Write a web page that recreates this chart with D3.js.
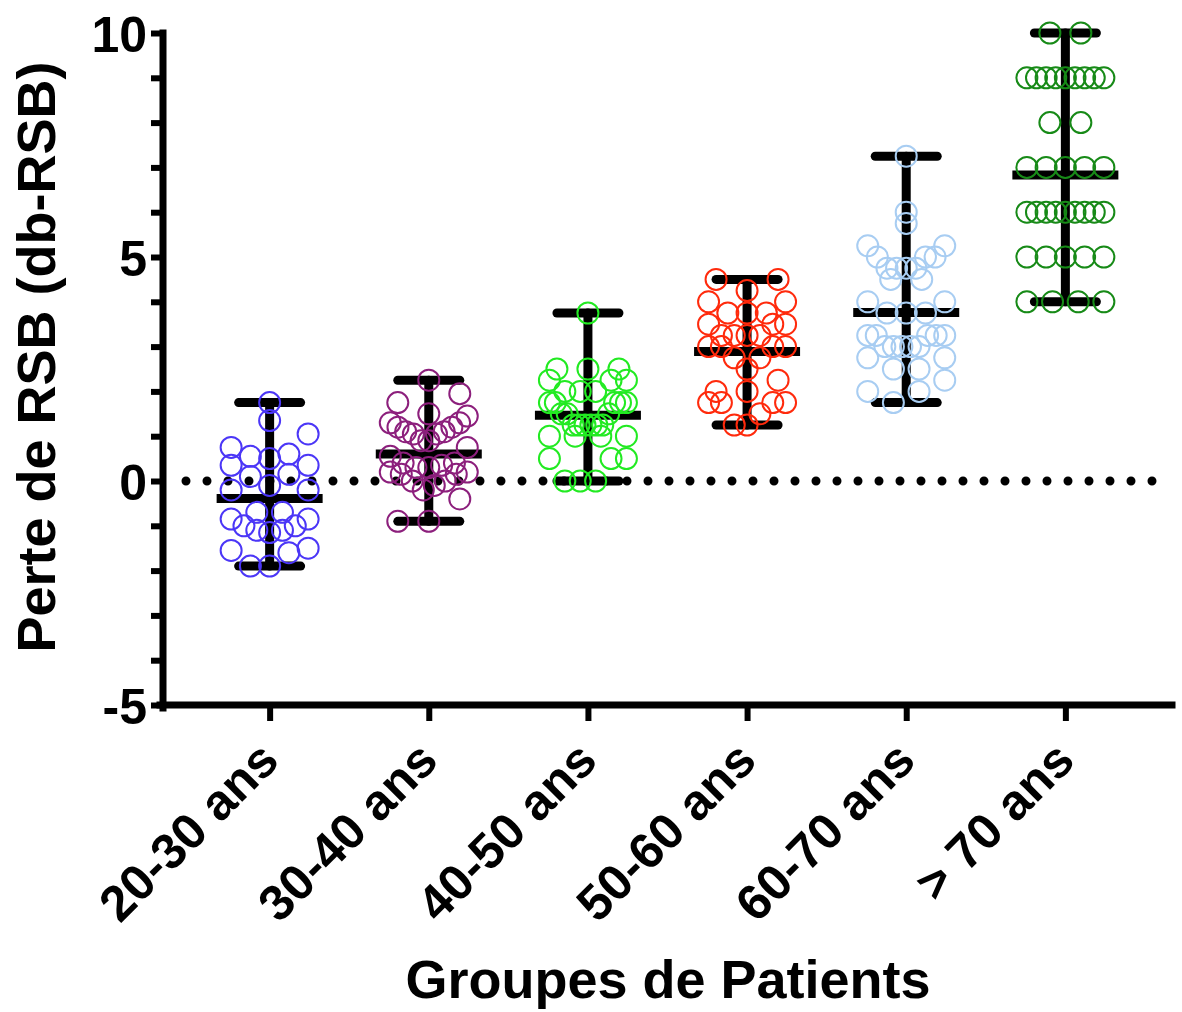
<!DOCTYPE html>
<html lang="fr">
<head>
<meta charset="UTF-8"/>
<title>Perte de RSB par groupe de patients</title>
<style>
  *{margin:0;padding:0}
  body{background:#fff}
  svg{display:block;font-family:"Liberation Sans",Arial,sans-serif;font-weight:bold}
</style>
</head>
<body>
<div id="chart"></div>
<script src="https://d3js.org/d3.v7.min.js"></script>
<script>
// groups + colours
const groups = ['20-30 ans','30-40 ans','40-50 ans','50-60 ans','60-70 ans','> 70 ans'];
const colors = ['#4b36f7','#8c1f7c','#22ea22','#ff2a0c','#a8cdf2','#178a17'];

// loss values, one list per group
const g20 = [1.75,1.35,1.05,0.75,0.6,0.55,0.5,0.35,0.35,0.15,0.1,-0.1,-0.2,-0.2,-0.7,-0.7,
             -0.85,-0.85,-1.0,-1.0,-1.1,-1.1,-1.15,-1.5,-1.55,-1.6,-1.9,-1.9];
const g30 = [2.25,1.95,1.75,1.5,1.45,1.3,1.3,1.2,1.2,1.1,1.1,1.05,1.05,0.9,0.9,0.75,0.55,
             0.4,0.35,0.4,0.3,0.3,0.2,0.2,0.15,0.15,0,0,-0.1,-0.2,-0.4,-0.9,-0.9];
const g40 = [3.75,2.5,2.5,2.5,2.25,2.25,2.25,2,2,2,1.75,1.75,1.75,1.75,1.75,1.5,1.5,1.5,
             1.25,1.25,1.25,1.25,1.25,1.25,1,1,1,1,0.5,0.5,0.5,0,0,0];
const g50 = [4.5,4.5,4.25,4,4,3.75,3.75,3.75,3.5,3.5,3.5,3.25,3.25,3.25,3.25,3,3,3,3,
             2.75,2.75,2.5,2.25,2,2,1.75,1.75,1.75,1.75,1.5,1.25,1.25];
const g60 = [7.25,6,5.75,5.25,5.25,5,5,5,4.75,4.75,4.75,4.75,4.5,4.5,4,4,3.75,3.75,3.75,
             3.25,3.25,3.25,3.25,3.25,3,3,3,3,3,2.75,2.75,2.5,2.5,2.25,2,2,1.75];
const g70 = [10,10,9,9,9,9,9,9,9,9,9,8,8,7,7,7,7,7,6,6,6,6,6,6,6,6,6,5,5,5,5,5,4,4,4,4];
const values = [g20,g30,g40,g50,g60,g70];

// group means (horizontal line)
const means = [-0.39,0.6,1.47,2.89,3.76,6.83];
const yTicks = [-5,0,5,10];

const W = 1182, H = 1012;
const svg = d3.select('#chart').append('svg').attr('width',W).attr('height',H);

const x = d3.scalePoint().domain(groups).range([163,1172]).padding(0.67);
const y = d3.scaleLinear().domain([-5,10]).range([705,33]);

// prism-like spread: bin values, put lowest in the middle, highest outside
function spread(vals){
  const lo = d3.min(vals), binH = 0.6;
  const pts = vals.map((v,i)=>({v,i}));
  const bins = d3.group(pts, d=>Math.floor((d.v-lo)/binH+1e-9));
  const off = new Array(vals.length).fill(0);
  for(const b of bins.values()){
    b.sort((a,c)=>a.v-c.v);
    const n = b.length;
    const s = n>1 ? Math.min(31, 77/(n-1)) : 0;
    const slots = d3.range(n).map(k=>(k-(n-1)/2)*s)
      .sort((a,c)=>Math.abs(a)-Math.abs(c) || a-c);
    b.forEach((p,k)=>off[p.i]=slots[k]);
  }
  return off;
}

// zero line
svg.append('line')
  .attr('x1',186).attr('x2',1170)
  .attr('y1',y(0)).attr('y2',y(0))
  .attr('stroke','#000').attr('stroke-width',9)
  .attr('stroke-linecap','round').attr('stroke-dasharray','0 21');

// axes
const yAxis = svg.append('g').attr('transform','translate(163,0)')
  .call(d3.axisLeft(y).tickValues(d3.range(-5,11,1)).tickSize(12).tickSizeOuter(0).tickPadding(4)
    .tickFormat(d=>yTicks.includes(d)?d:''));
const xAxis = svg.append('g').attr('transform','translate(0,705)')
  .call(d3.axisBottom(x).tickSize(16).tickSizeOuter(0));

[yAxis,xAxis].forEach(a=>{
  a.select('.domain').attr('stroke','#000').attr('stroke-width',7).attr('stroke-linecap','square');
  a.selectAll('.tick line').attr('stroke','#000').attr('stroke-width',6);
  a.selectAll('text').attr('fill','#000').style('font-size','50px').style('font-family','"Liberation Sans",Arial,sans-serif').style('font-weight','bold');
});
yAxis.select('.domain').attr('d','M0,33V708');
xAxis.select('.domain').attr('d','M160,0H1172');
yAxis.selectAll('text').attr('dy','0.36em');
xAxis.selectAll('text')
  .attr('text-anchor','end').attr('y',null).attr('dy',null)
  .attr('transform','translate(11,58) rotate(-45)');

// error bars: range min-max, mean line
const bars = svg.append('g');
groups.forEach((g,i)=>{
  const [mn,mx] = d3.extent(values[i]);
  const cx = x(g);
  const gg = bars.append('g').attr('stroke','#000').attr('stroke-linecap','round');
  gg.append('line').attr('x1',cx).attr('x2',cx).attr('y1',y(mx)).attr('y2',y(mn)).attr('stroke-width',9);
  gg.append('line').attr('x1',cx-31).attr('x2',cx+31).attr('y1',y(mx)).attr('y2',y(mx)).attr('stroke-width',9);
  gg.append('line').attr('x1',cx-31).attr('x2',cx+31).attr('y1',y(mn)).attr('y2',y(mn)).attr('stroke-width',9);
  gg.append('line').attr('x1',cx-53).attr('x2',cx+53).attr('y1',y(means[i])).attr('y2',y(means[i]))
    .attr('stroke-width',9).attr('stroke-linecap','butt');
});

// points
groups.forEach((g,i)=>{
  const off = spread(values[i]);
  svg.append('g').selectAll('circle')
    .data(values[i])
    .join('circle')
    .attr('cx',(d,k)=>x(g)+off[k])
    .attr('cy',d=>y(d))
    .attr('r',10.5)
    .attr('fill','none')
    .attr('stroke',colors[i])
    .attr('stroke-width',2);
});

// titles
svg.append('text')
  .attr('transform','translate(55,357) rotate(-90)')
  .attr('text-anchor','middle').style('font-size','54px')
  .text('Perte de RSB (db-RSB)');
svg.append('text')
  .attr('x',668).attr('y',998)
  .attr('text-anchor','middle').style('font-size','54px')
  .text('Groupes de Patients');
</script>
</body>
</html>
